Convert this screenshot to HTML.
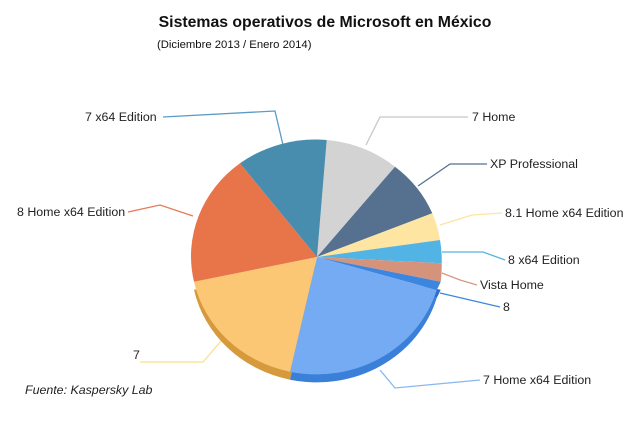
<!DOCTYPE html>
<html><head><meta charset="utf-8"><style>
body{margin:0;background:#fff;}
svg{display:block;font-family:"Liberation Sans",sans-serif;}
</style></head><body>
<svg width="640" height="434" viewBox="0 0 640 434">
<text x="325" y="27" text-anchor="middle" font-size="15.8" font-weight="bold" fill="#111">Sistemas operativos de Microsoft en México</text>
<text x="157" y="48" font-size="11.3" fill="#111">(Diciembre 2013 / Enero 2014)</text>
<g stroke-width="1.3" fill="none">
<polyline points="163,117 275,111 283,145" stroke="#5b9bc5"/>
<polyline points="468,117 380,117 366,145" stroke="#c8c8c8"/>
<polyline points="487,164 450,164 418,186" stroke="#56708f"/>
<polyline points="502,213 472,215 440,225" stroke="#fde4a0"/>
<polyline points="505,260 483,252 442,252" stroke="#55b3e3"/>
<polyline points="477,285 460,280 442,273" stroke="#d39a85"/>
<polyline points="500,307 440,293" stroke="#3d86e0"/>
<polyline points="480,380 395,388 380,370" stroke="#8ab8ee"/>
<polyline points="140,362 203,362 222,340" stroke="#fde08a"/>
<polyline points="128,212 160,205 193,216" stroke="#e57a55"/>
</g>
<g transform="translate(0,8)">
<path d="M317,257 L194,281.7 A125 117 0 0 0 290,371.7 Z" fill="#d69a3c"/>
<path d="M317,257 L290,371.7 A125 117 0 0 0 436.7,290 Z" fill="#3a7fd8"/>
<path d="M317,257 L436.7,290 A125 117 0 0 0 440.7,281.7 Z" fill="#2e6fc8"/>
</g>
<path d="M317,257 L326.7,140 A125 117 0 0 1 395,166.7 Z" fill="#d3d3d3"/>
<path d="M317,257 L395,166.7 A125 117 0 0 1 432.3,213.3 Z" fill="#56708f"/>
<path d="M317,257 L432.3,213.3 A125 117 0 0 1 440,240 Z" fill="#fee5a2"/>
<path d="M317,257 L440,240 A125 117 0 0 1 441.7,263.3 Z" fill="#52b4e4"/>
<path d="M317,257 L441.7,263.3 A125 117 0 0 1 440.7,281.7 Z" fill="#d5937c"/>
<path d="M317,257 L440.7,281.7 A125 117 0 0 1 436.7,290 Z" fill="#3d86e0"/>
<path d="M317,257 L436.7,290 A125 117 0 0 1 290,371.7 Z" fill="#74abf2"/>
<path d="M317,257 L290,371.7 A125 117 0 0 1 194,281.7 Z" fill="#fbc774"/>
<path d="M317,257 L194,281.7 A125 117 0 0 1 240,163.3 Z" fill="#e8744a"/>
<path d="M317,257 L240,163.3 A125 117 0 0 1 326.7,140 Z" fill="#488dae"/>
<g font-size="12.4" fill="#222">
<text x="85" y="121">7 x64 Edition</text>
<text x="472" y="121">7 Home</text>
<text x="490" y="168">XP Professional</text>
<text x="505" y="217">8.1 Home x64 Edition</text>
<text x="508" y="264">8 x64 Edition</text>
<text x="480" y="289">Vista Home</text>
<text x="503" y="311">8</text>
<text x="483" y="384">7 Home x64 Edition</text>
<text x="133" y="359">7</text>
<text x="17" y="216">8 Home x64 Edition</text>
</g>
<text x="25" y="394" font-size="12.4" font-style="italic" fill="#222">Fuente: Kaspersky Lab</text>
</svg>
</body></html>
